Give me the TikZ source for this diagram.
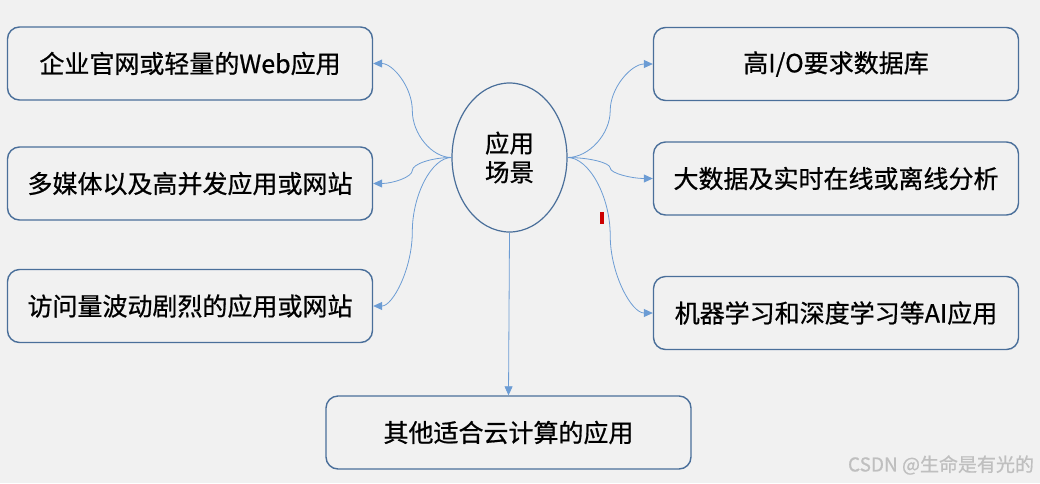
\documentclass[tikz,border=0pt]{standalone}
\usepackage{fontspec}
\setmainfont{Noto Sans CJK SC}[FakeBold=0.7]
\usetikzlibrary{arrows.meta,calc,positioning,shapes.geometric}

\definecolor{paper}{HTML}{F1F1F1}
\definecolor{frame}{HTML}{4A6F9A}
\definecolor{wire}{HTML}{6C9CD4}

\begin{document}
\begin{tikzpicture}[x=1pt,y=1pt,
    item/.style={rectangle,rounded corners=12pt,draw=frame,line width=1.4pt,
        fill=paper,minimum width=365pt,minimum height=73pt,inner sep=0pt,
        font=\fontsize{25}{29}\selectfont},
    core/.style={ellipse,draw=frame,line width=1.2pt,fill=paper,
        minimum width=115pt,minimum height=149pt,inner sep=0pt,align=center,
        font=\fontsize{24.5}{29}\selectfont},
    link/.style={draw=wire,line width=0.8pt,-{Triangle[length=9pt,width=8pt]},
        to path={let \p1=(\tikztostart),\p2=(\tikztotarget) in
          .. controls ({0.75*\x1+0.25*\x2},\y1) and ({0.5*\x1+0.5*\x2},{0.75*\y1+0.25*\y2})
          .. ({0.5*\x1+0.5*\x2},{0.5*\y1+0.5*\y2})
          .. controls ({0.5*\x1+0.5*\x2},{0.25*\y1+0.75*\y2}) and ({0.25*\x1+0.75*\x2},\y2)
          .. (\tikztotarget) \tikztonodes}}
]
 \fill[paper] (0,0) rectangle (1040,-483);

 \node[core] (hub) at (509.5,-157.5) {应用\\场景};

 \node[item] (web) at (190,-63.5) {企业官网或轻量的Web应用};
 \node[item] (media) at (190,-183.5) {多媒体以及高并发应用或网站};
 \node[item] (burst) at (190,-306) {访问量波动剧烈的应用或网站};

 \node[item] (disk) at (836,-64) {高I/O要求数据库};
 \node[item] (stats) at (836,-178.5) {大数据及实时在线或离线分析};
 \node[item] (learn) at (836,-313) {机器学习和深度学习等AI应用};

 \node[item] (other) at (508.5,-432.5) {其他适合云计算的应用};

 \draw[link] (hub.west) to (web.east);
 \draw[link] (hub.west) to (media.east);
 \draw[link] (hub.west) to (burst.east);
 \draw[link] (hub.east) to (disk.west);
 \draw[link] (hub.east) to (stats.west);
 \draw[link] (hub.east) to (learn.west);
 \draw[link] (hub.south) -- (other.north);

 % cursor mark
 \fill[red!80!black] (600,-212) rectangle (604,-224);

 \node[text=black!25,font=\fontsize{19}{19}\selectfont] (credit) at (941,-465) {CSDN @生命是有光的};
\end{tikzpicture}
\end{document}
